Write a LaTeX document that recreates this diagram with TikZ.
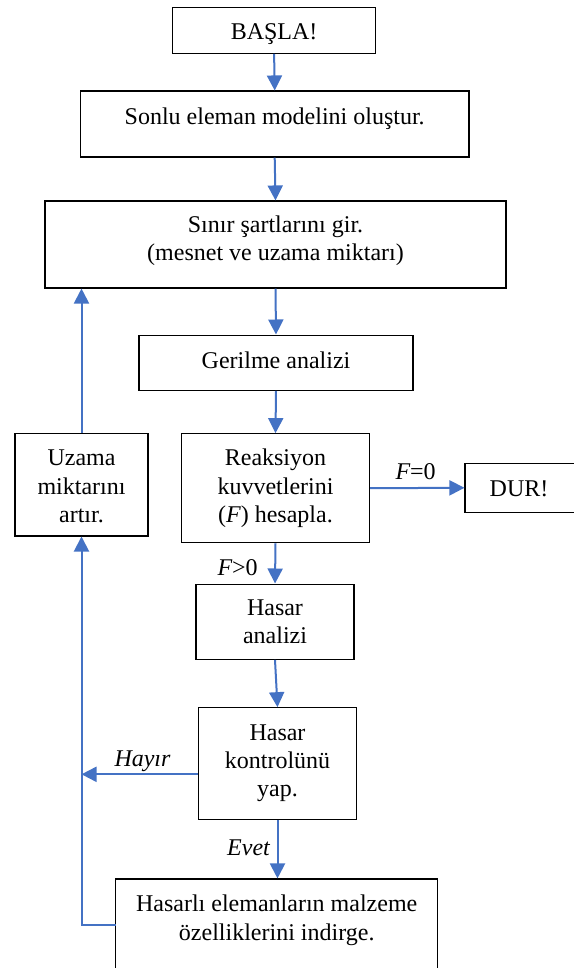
\documentclass[tikz,border=0pt]{standalone}
\usepackage{fontspec}
\setmainfont{Liberation Serif}
\usetikzlibrary{arrows.meta,calc}
\definecolor{wblue}{RGB}{68,114,196}
\begin{document}
\begin{tikzpicture}[x=1pt,y=-1pt,
  box/.style={draw=black,line width=1.1pt,inner sep=0pt},
  txt/.style={font=\fontsize{24}{28.3}\selectfont,align=center,inner sep=0pt,anchor=base},
  lbl/.style={font=\fontsize{24}{28.3}\selectfont,inner sep=0pt,anchor=base},
  flow/.style={draw=wblue,line width=2pt,-{Triangle[width=15pt,length=15pt]}}]
\useasboundingbox (0,0) rectangle (573,968);

% boxes
\node[box,minimum width=203pt,minimum height=46pt] (start) at (274.1,30.3) {};
\node[box,minimum width=388.6pt,minimum height=66pt] (model) at (274.7,124) {};
\node[box,minimum width=461pt,minimum height=87pt] (bc) at (275.5,244.5) {};
\node[box,minimum width=274pt,minimum height=55.3pt] (stress) at (276,362.7) {};
\node[box,minimum width=188pt,minimum height=109pt] (react) at (275.5,488.2) {};
\node[box,minimum width=133pt,minimum height=102.3pt] (inc) at (81.5,484.8) {};
\node[box,minimum width=110pt,minimum height=48.7pt] (stop) at (520,487.8) {};
\node[box,minimum width=158pt,minimum height=75.3pt] (dmg) at (275,621.7) {};
\node[box,minimum width=158pt,minimum height=111.6pt] (chk) at (277.5,763.5) {};
\node[box,minimum width=322.4pt,minimum height=100pt] (red) at (276.7,929) {};

% texts (anchored at the baseline of the last line)
\node[txt] (tstart) at (274.1,40) {BAŞLA!};
\node[txt] (tmodel) at (274.7,124.3) {Sonlu eleman modelini oluştur.};
\node[txt] (tbc) at (275.5,260.5) {Sınır şartlarını gir.\\(mesnet ve uzama miktarı)};
\node[txt] (tstress) at (276,368.3) {Gerilme analizi};
\node[txt] (treact) at (275.5,522.3) {Reaksiyon\\kuvvetlerini\\({\itshape F}) hesapla.};
\node[txt] (tinc) at (81.5,522.3) {Uzama\\miktarını\\artır.};
\node[txt] (tstop) at (519,496.7) {DUR!};
\node[txt] (tdmg) at (275,643.3) {Hasar\\analizi};
\node[txt] (tchk) at (277.5,796.7) {Hasar\\kontrolünü\\yap.};
\node[txt] (tred) at (276.7,940) {Hasarlı elemanların malzeme\\özelliklerini indirge.};

% connector labels
\node[lbl] (lf0) at (415.6,479) {{\itshape F}=0};
\node[lbl] (lfp) at (237.6,575.7) {{\itshape F}>0};
\node[lbl] (lno) at (142.5,766) {\itshape Hayır};
\node[lbl] (lyes) at (248.5,855) {\itshape Evet};

% connectors
\coordinate (hy) at (81.5,774.3);
\coordinate (rw) at (115.5,925);
\draw[flow] (start.south) -- (model.north);
\draw[flow] (model.south) -- (bc.north);
\draw[flow] (bc.south) -- (stress.north);
\draw[flow] (stress.south) -- (react.north);
\draw[flow] (react.east) -- (stop.west);
\draw[flow] (react.south) -- (dmg.north);
\draw[flow] (dmg.south) -- (chk.north);
\draw[flow] (chk.south) -- (chk.south |- red.north);
\draw[flow] (chk.west |- hy) -- (hy);
\draw[flow] (rw) -| (inc.south);
\draw[flow] (inc.north) -- (inc.north |- bc.south);
\end{tikzpicture}
\end{document}
